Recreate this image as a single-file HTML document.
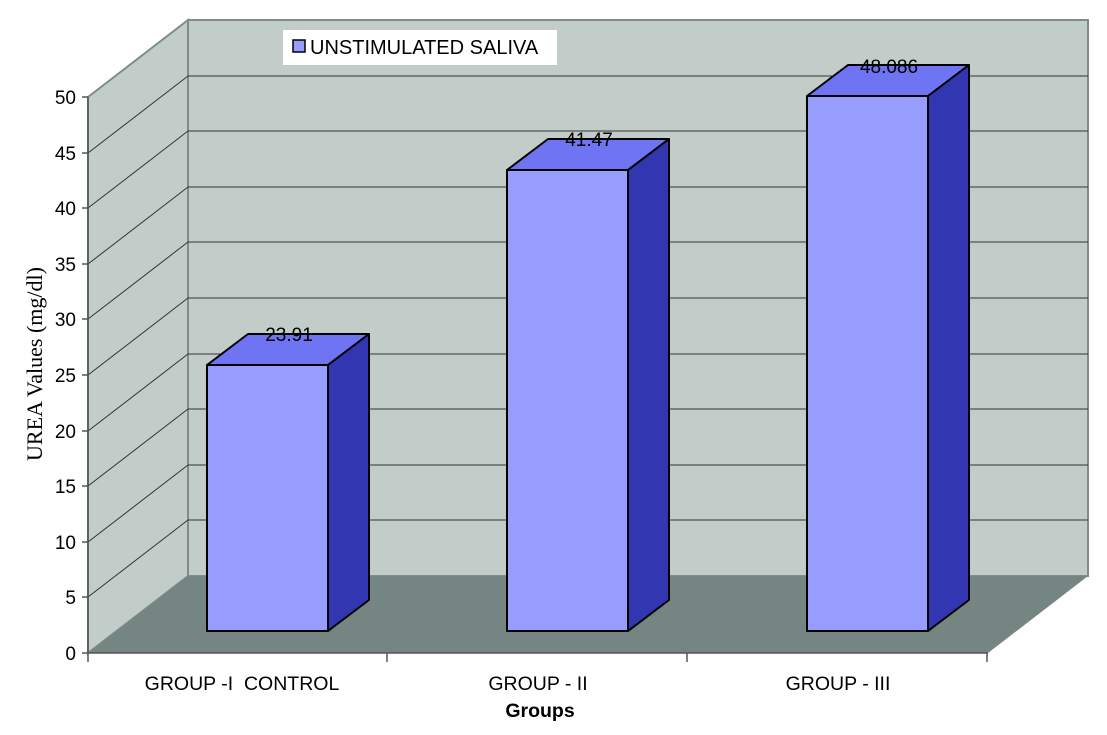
<!DOCTYPE html><html><head><style>body{margin:0;background:#fff}svg{display:block}</style></head><body>
<svg width="1107" height="735" xmlns="http://www.w3.org/2000/svg" font-family="Liberation Sans, sans-serif">
<polygon points="188,20 1088,20 1088,576 188,576" fill="#c2ccc9" stroke="#7f8c89" stroke-width="2"/>
<polygon points="88,97 188,20 188,576 88,653" fill="#c2ccc9" stroke="#7f8c89" stroke-width="2"/>
<polygon points="88,653 188,576 1088,576 988,653" fill="#748582"/>
<g stroke="#333" stroke-width="1">
<line x1="188" y1="76" x2="1088" y2="76"/><line x1="188" y1="131" x2="1088" y2="131"/>
<line x1="188" y1="187" x2="1088" y2="187"/><line x1="188" y1="242" x2="1088" y2="242"/>
<line x1="188" y1="298" x2="1088" y2="298"/><line x1="188" y1="354" x2="1088" y2="354"/>
<line x1="188" y1="409" x2="1088" y2="409"/><line x1="188" y1="465" x2="1088" y2="465"/>
<line x1="188" y1="520" x2="1088" y2="520"/>
<line x1="88" y1="153" x2="188" y2="76"/><line x1="88" y1="208" x2="188" y2="131"/>
<line x1="88" y1="264" x2="188" y2="187"/><line x1="88" y1="319" x2="188" y2="242"/>
<line x1="88" y1="375" x2="188" y2="298"/><line x1="88" y1="431" x2="188" y2="354"/>
<line x1="88" y1="486" x2="188" y2="409"/><line x1="88" y1="542" x2="188" y2="465"/>
<line x1="88" y1="597" x2="188" y2="520"/>
</g>
<g stroke="#555" stroke-width="1.5">
<line x1="88" y1="97" x2="88" y2="653"/><line x1="88" y1="653" x2="988" y2="653"/>
<line x1="82" y1="97" x2="88" y2="97"/><line x1="82" y1="153" x2="88" y2="153"/><line x1="82" y1="208" x2="88" y2="208"/><line x1="82" y1="264" x2="88" y2="264"/><line x1="82" y1="319" x2="88" y2="319"/><line x1="82" y1="375" x2="88" y2="375"/><line x1="82" y1="431" x2="88" y2="431"/><line x1="82" y1="486" x2="88" y2="486"/><line x1="82" y1="542" x2="88" y2="542"/><line x1="82" y1="597" x2="88" y2="597"/><line x1="82" y1="653" x2="88" y2="653"/>
<line x1="88" y1="653" x2="88" y2="662"/><line x1="387" y1="653" x2="387" y2="662"/><line x1="687" y1="653" x2="687" y2="662"/><line x1="987" y1="653" x2="987" y2="662"/>
</g>
<g stroke="#000" stroke-width="2" stroke-linejoin="round">
<polygon points="207,365 328,365 369,334 248,334" fill="#6f74f2"/>
<polygon points="328,365 369,334 369,600 328,631" fill="#3236b0"/>
<rect x="207" y="365" width="121" height="266" fill="#979dfc"/>
<polygon points="507,170 628,170 669,139 548,139" fill="#6f74f2"/>
<polygon points="628,170 669,139 669,600 628,631" fill="#3236b0"/>
<rect x="507" y="170" width="121" height="461" fill="#979dfc"/>
<polygon points="807,96 928,96 969,65 848,65" fill="#6f74f2"/>
<polygon points="928,96 969,65 969,600 928,631" fill="#3236b0"/>
<rect x="807" y="96" width="121" height="535" fill="#979dfc"/>
</g>
<g font-size="19" fill="#000" text-anchor="middle">
<text x="289" y="341">23.91</text><text x="589" y="146">41.47</text><text x="889" y="73">48.086</text>
</g>
<g font-size="19" fill="#000" text-anchor="end">
<text x="76" y="104">50</text><text x="76" y="160">45</text><text x="76" y="215">40</text><text x="76" y="271">35</text><text x="76" y="326">30</text><text x="76" y="382">25</text><text x="76" y="438">20</text><text x="76" y="493">15</text><text x="76" y="549">10</text><text x="76" y="604">5</text><text x="76" y="660">0</text>
</g>
<g font-size="19.5" fill="#000" text-anchor="middle">
<text x="242" y="690">GROUP -I&#160; CONTROL</text><text x="538" y="690">GROUP - II</text><text x="838" y="690">GROUP - III</text>
<text x="540" y="717" font-weight="bold">Groups</text>
</g>
<text transform="translate(42,364) rotate(-90)" font-family="Liberation Serif, serif" font-size="22" text-anchor="middle">UREA Values (mg/dl)</text>
<rect x="283" y="30" width="274" height="35" fill="#fff"/>
<rect x="293" y="40" width="12" height="12" fill="#979dfc" stroke="#000" stroke-width="1.5"/>
<text x="310" y="54" font-size="20">UNSTIMULATED SALIVA</text>
</svg></body></html>
